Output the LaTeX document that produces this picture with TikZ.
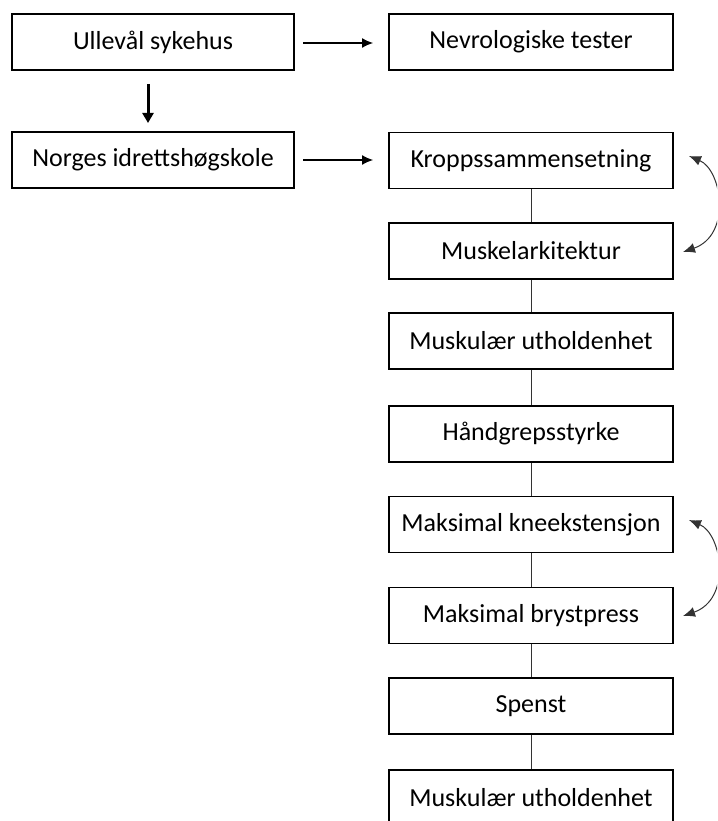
\documentclass[tikz,border=0pt]{standalone}
\usepackage{fontspec}
\setmainfont{Carlito}
\usetikzlibrary{arrows.meta}
\begin{document}
\begin{tikzpicture}[x=1pt,y=-1pt,
  box/.style={draw=black,line width=1.6pt,minimum height=56pt,inner sep=0pt,
    font=\fontsize{26}{30}\selectfont,text=black},
  lbox/.style={box,minimum width=282pt},
  rbox/.style={box,minimum width=284pt},
  link/.style={draw=black!80,line width=0.9pt},
  harrow/.style={draw=black,line width=1.1pt,-{Latex[length=11pt,width=10pt]}},
  barrow/.style={draw=black!80,line width=1pt,{Latex[length=12pt,width=10pt]}-{Latex[length=12pt,width=10pt]}}]
\useasboundingbox (0,0) rectangle (717,821);
\begin{scope}
\clip (0,0) rectangle (717,821);
\node[lbox] (ull) at (153,42) {Ullevål sykehus};
\node[lbox] (nih) at (153,160) {Norges idrettshøgskole};
\node[rbox] (nev) at (531,42) {Nevrologiske tester};
\node[rbox] (kro) at (531,160.5) {Kroppssammensetning};
\node[rbox] (mus) at (531,251) {Muskelarkitektur};
\node[rbox] (mut) at (531,341) {Muskulær utholdenhet};
\node[rbox] (han) at (531,434) {Håndgrepsstyrke};
\node[rbox] (kne) at (531,524.5) {Maksimal kneekstensjon};
\node[rbox] (bry) at (531,615.5) {Maksimal brystpress};
\node[rbox] (spe) at (531,706) {Spenst};
\node[rbox] (mu2) at (531,798) {Muskulær utholdenhet};

\coordinate (a1s) at (303,43);
\coordinate (a1e) at (373,43);
\coordinate (a2s) at (303,160);
\coordinate (a2e) at (373,160);
\draw[harrow] (a1s) -- (a1e);
\draw[harrow] (a2s) -- (a2e);

\coordinate (ds) at (148,84);
\coordinate (de) at (148,123);
\draw[draw=black,line width=3pt,-{Triangle[length=10pt,width=11pt]}] (ds) -- (de);

\draw[link] (kro) -- (mus);
\draw[link] (mus) -- (mut);
\draw[link] (mut) -- (han);
\draw[link] (han) -- (kne);
\draw[link] (kne) -- (bry);
\draw[link] (bry) -- (spe);
\draw[link] (spe) -- (mu2);

\coordinate (c1a) at (689,156);
\coordinate (c1b) at (683,252);
\draw[barrow] (c1a) .. controls (722,170) and (732,235) .. (c1b);
\coordinate (c2a) at (689,520);
\coordinate (c2b) at (683,616);
\draw[barrow] (c2a) .. controls (722,534) and (732,599) .. (c2b);
\end{scope}
\end{tikzpicture}
\end{document}
